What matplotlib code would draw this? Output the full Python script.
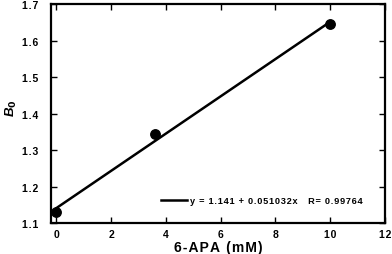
import matplotlib
matplotlib.use("Agg")
import matplotlib.pyplot as plt
import numpy as np

x_data = [0.0, 3.6, 10.0]
y_data = [1.13, 1.345, 1.645]
intercept = 1.141
slope = 0.051032
fit_x = [0.0, 10.0]
fit_label = "y = 1.141 + 0.051032x   R= 0.99764"
x_ticks = [0, 2, 4, 6, 8, 10, 12]
y_ticks = [1.1, 1.2, 1.3, 1.4, 1.5, 1.6, 1.7]
y_tick_labels = ['1.1', '1.2', '1.3', '1.4', '1.5', '1.6', '1.7']
x_label = "6-APA (mM)"

HS = '\u200a'  # hair space to imitate the wide letter tracking


def track(s):
    return HS.join(s)


plt.rcParams['font.family'] = ['Liberation Sans', 'DejaVu Sans']
plt.rcParams['font.weight'] = 'bold'

fig = plt.figure(figsize=(3.92, 2.55), dpi=100)
ax = fig.add_axes([51/392, 1 - 224/255, (385-51)/392, (224-5)/255])

fit_y = [intercept + slope * v for v in fit_x]
ax.plot(fit_x, fit_y, color='black', lw=1.8, label=track(fit_label), zorder=2)
ax.plot(x_data, y_data, 'o', color='black', ms=6.8, zorder=3)

ax.set_xlim(-0.2, 12)
ax.set_ylim(1.1, 1.7)
ax.set_xticks(x_ticks)
ax.set_xticklabels([track(str(v)) for v in x_ticks])
ax.set_yticks(y_ticks)
ax.set_yticklabels([track(s) for s in y_tick_labels])
ax.tick_params(direction='in', top=True, right=True, length=4, width=1,
               labelsize=7.5)
ax.tick_params(axis='x', pad=4)
ax.tick_params(axis='y', pad=9)
for lab in ax.get_xticklabels() + ax.get_yticklabels():
    lab.set_fontweight('bold')
for s in ax.spines.values():
    s.set_linewidth(1.6)

ax.set_xlabel(track(x_label), fontsize=10, fontweight='bold', labelpad=1)
ax.set_ylabel("B$_0$", fontsize=9.5, fontweight='bold', fontstyle='italic')
ax.yaxis.set_label_coords(-0.095, 0.53)

leg = ax.legend(loc='lower right', bbox_to_anchor=(0.957, 0.044), frameon=False,
                fontsize=6.6, handlelength=2.8, handletextpad=0.3)
for t in leg.get_texts():
    t.set_fontweight('bold')

fig.savefig("out.png", dpi=100)
